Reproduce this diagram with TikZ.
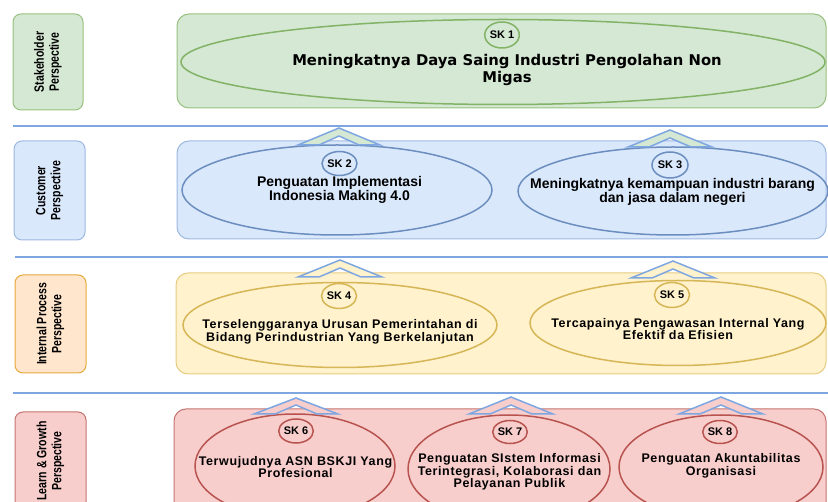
\documentclass[tikz,border=0pt]{standalone}
\usepackage{fontspec}
\setmainfont{Liberation Sans}
\newfontfamily\verd{DejaVu Sans}
\newfontfamily\narrow{Liberation Sans}[FakeStretch=0.78]
\newfontfamily\spc{Liberation Sans}[LetterSpace=5]
\usetikzlibrary{shapes.geometric}
\definecolor{gfill}{HTML}{D5E8D4}\definecolor{gline}{HTML}{97C17D}\definecolor{gdark}{HTML}{82B366}
\definecolor{bfill}{HTML}{DAE8FC}\definecolor{bline}{HTML}{9DB8E0}\definecolor{bdark}{HTML}{6C8EBF}
\definecolor{yfill}{HTML}{FFF2CC}\definecolor{yline}{HTML}{E6CC80}\definecolor{ydark}{HTML}{D6B656}
\definecolor{ofill}{HTML}{FFE6CC}\definecolor{oline}{HTML}{E5A93D}
\definecolor{rfill}{HTML}{F8CECC}\definecolor{rline}{HTML}{C47470}\definecolor{rdark}{HTML}{B85450}
\definecolor{sepc}{HTML}{7EA6E0}
\begin{document}
\begin{tikzpicture}[x=1pt,y=-1pt,
  every node/.style={inner sep=0pt, outer sep=0pt},
  sepline/.style={draw=sepc, line width=2pt},
  labbox/.style={rectangle, draw=#1line, fill=#1fill, line width=1pt, rounded corners=8pt},
  contbox/.style={rectangle, draw=#1line, fill=#1fill, line width=1pt, rounded corners=12pt},
  skell/.style={ellipse, draw=#1dark, line width=1.5pt},
  skc/.style={ellipse, draw=#1dark, line width=1.5pt, font=\fontsize{11}{11}\selectfont\bfseries},
  labtxt/.style={rotate=90, align=center, font=\narrow\fontsize{13.5}{15}\selectfont\bfseries},
  wtxt/.style={align=center, font=\fontsize{14}{14}\selectfont\bfseries},
  stxt/.style={align=center, font=\spc\fontsize{12.5}{12.5}\selectfont\bfseries},
  vtxt/.style={align=center, font=\verd\fontsize{14.8}{17}\selectfont\bfseries},
  skarr/.style={draw=sepc, line width=1.5pt, fill=#1, line join=miter},
]
\useasboundingbox (0,0) rectangle (828,502);
\clip (0,0) rectangle (828,502);

% separator lines
\coordinate (s1a) at (13,126); \coordinate (s1b) at (828,126);
\coordinate (s2a) at (15,257); \coordinate (s2b) at (828,257);
\coordinate (s3a) at (13,393); \coordinate (s3b) at (828,393);
\draw[sepline] (s1a) -- (s1b);
\draw[sepline] (s2a) -- (s2b);
\draw[sepline] (s3a) -- (s3b);

% perspective labels
\node[labbox=g, minimum width=70pt, minimum height=96pt] (l1) at (48,62) {};
\node[labtxt] (l1t) at (l1) {Stakeholder\\Perspective};
\node[labbox=b, minimum width=71pt, minimum height=99pt] (l2) at (49.5,190.5) {};
\node[labtxt] (l2t) at (l2) {Customer\\Perspective};
\node[labbox=o, minimum width=71pt, minimum height=98pt] (l3) at (50.5,324) {};
\node[labtxt] (l3t) at (l3) {Internal Process\\Perspective};
\node[labbox=r, minimum width=71pt, minimum height=98pt] (l4) at (50.5,461) {};
\node[labtxt] (l4t) at (l4) {Learn \& Growth\\Perspective};

% containers
\node[contbox=g, minimum width=649pt, minimum height=94pt] (c1) at (501.5,61) {};
\node[contbox=b, minimum width=649pt, minimum height=98pt] (c2) at (501.5,190) {};
\node[contbox=y, minimum width=650pt, minimum height=101pt] (c3) at (501,323.5) {};
\node[contbox=r, minimum width=652pt, minimum height=110pt] (c4) at (500,464) {};

% ellipses
\node[skell=g, minimum width=644pt, minimum height=85pt] (e1) at (503,62) {};
\node[skell=b, minimum width=310pt, minimum height=90pt] (e2) at (337,190) {};
\node[skell=b, minimum width=310pt, minimum height=88pt] (e3) at (673,191) {};
\node[skell=y, minimum width=314pt, minimum height=85pt] (e4) at (340,325) {};
\node[skell=y, minimum width=296pt, minimum height=85pt] (e5) at (678,323) {};
\node[skell=r, minimum width=200pt, minimum height=104pt] (e6) at (295,466) {};
\node[skell=r, minimum width=202pt, minimum height=108pt] (e7) at (509,469) {};
\node[skell=r, minimum width=204pt, minimum height=104pt] (e8) at (721,467) {};

% SK circles
\node[skc=g, minimum width=30pt, minimum height=26pt] (k1) at (502,35) {SK 1};
\node[skc=b, minimum width=35pt, minimum height=24pt] (k2) at (339.5,163.5) {SK 2};
\node[skc=b, minimum width=36pt, minimum height=26pt] (k3) at (670,165) {SK 3};
\node[skc=y, minimum width=35pt, minimum height=25pt] (k4) at (339,296) {SK 4};
\node[skc=y, minimum width=35pt, minimum height=25pt] (k5) at (672,295) {SK 5};
\node[skc=r, minimum width=34pt, minimum height=24pt] (k6) at (296,431) {SK 6};
\node[skc=r, minimum width=33pt, minimum height=23pt] (k7) at (510,432) {SK 7};
\node[skc=r, minimum width=32pt, minimum height=23pt] (k8) at (720,432) {SK 8};

% upward chevrons
\coordinate (a2) at (339,128);
\coordinate (a3) at (670,130);
\coordinate (a4) at (340,260);
\coordinate (a5) at (673,261);
\coordinate (a6) at (296,398);
\coordinate (a7) at (511,397);
\coordinate (a8) at (721,397);
\draw[skarr=gfill] (a2) -- ++(-41,17) -- ++(21,0) -- ++(20,-9) -- ++(20,9) -- ++(21,0) -- cycle;
\draw[skarr=gfill] (a3) -- ++(-42,17) -- ++(21,0) -- ++(21,-9) -- ++(21,9) -- ++(21,0) -- cycle;
\draw[skarr=yfill] (a4) -- ++(-42,17) -- ++(21,0) -- ++(21,-9) -- ++(21,9) -- ++(21,0) -- cycle;
\draw[skarr=yfill] (a5) -- ++(-42,17) -- ++(21,0) -- ++(21,-9) -- ++(21,9) -- ++(21,0) -- cycle;
\draw[skarr=rfill] (a6) -- ++(-42,16) -- ++(21,0) -- ++(21,-9) -- ++(21,9) -- ++(21,0) -- cycle;
\draw[skarr=rfill] (a7) -- ++(-42,17) -- ++(21,0) -- ++(21,-9) -- ++(21,9) -- ++(21,0) -- cycle;
\draw[skarr=rfill] (a8) -- ++(-42,17) -- ++(21,0) -- ++(21,-9) -- ++(21,9) -- ++(21,0) -- cycle;

% texts
\node[vtxt] (t1) at (507,70) {Meningkatnya Daya Saing Industri Pengolahan Non\\Migas};
\node[wtxt] (t2) at (339.5,190) {Penguatan Implementasi\\Indonesia Making 4.0};
\node[wtxt] (t3) at (672.5,192) {Meningkatnya kemampuan industri barang\\dan jasa dalam negeri};
\node[stxt] (t4) at (340,332) {Terselenggaranya Urusan Pemerintahan di\\Bidang Perindustrian Yang Berkelanjutan};
\node[stxt] (t5) at (678,329) {Tercapainya Pengawasan Internal Yang\\Efektif da Efisien};
\node[stxt] (t6) at (295.5,467) {Terwujudnya ASN BSKJI Yang\\Profesional};
\node[stxt] (t7) at (509.5,472) {Penguatan SIstem Informasi\\Terintegrasi, Kolaborasi dan\\Pelayanan Publik};
\node[stxt] (t8) at (721,466) {Penguatan Akuntabilitas\\Organisasi};
\end{tikzpicture}
\end{document}
